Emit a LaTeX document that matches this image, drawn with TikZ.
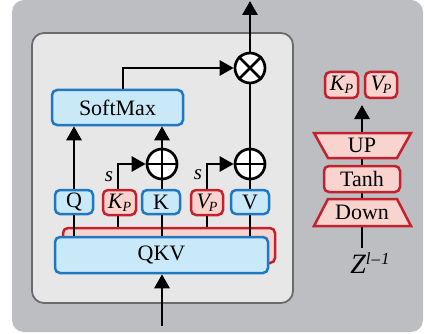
\documentclass[tikz,border=0pt]{standalone}
\usepackage{fontspec}
\setmainfont{Liberation Serif}
\usetikzlibrary{arrows.meta,shapes.geometric}
\definecolor{outerg}{RGB}{189,190,194}
\definecolor{innerg}{RGB}{231,231,231}
\definecolor{innerb}{RGB}{107,107,107}
\definecolor{bfill}{RGB}{201,233,248}
\definecolor{bline}{RGB}{31,120,193}
\definecolor{rfill}{RGB}{249,211,206}
\definecolor{rline}{RGB}{196,33,47}
\newcommand{\KP}{{\itshape K\raisebox{-3pt}{\fontsize{14}{14}\selectfont P}}}
\newcommand{\VP}{{\itshape V\kern-1pt\raisebox{-3pt}{\fontsize{14}{14}\selectfont P}}}
\tikzset{
  txt/.style={font=\fontsize{22}{24}\selectfont, inner sep=0pt},
  bbox/.style={draw=bline, fill=bfill, line width=2.5pt, rounded corners=5pt, inner sep=0pt, font=\fontsize{22}{24}\selectfont},
  rbox/.style={draw=rline, fill=rfill, line width=2.5pt, rounded corners=5pt, inner sep=0pt, font=\fontsize{22}{24}\selectfont},
  conn/.style={line width=2.8pt, black},
  arr/.style={conn, -{Triangle[width=15pt,length=14pt]}},
  opc/.style={circle, draw=black, fill=white, line width=2.7pt, minimum size=30pt, inner sep=0pt},
}
\begin{document}
\begin{tikzpicture}[x=1pt,y=-1pt]
\useasboundingbox (0,0) rectangle (425,334);
% backgrounds
\fill[outerg, rounded corners=12pt] (12,0) rectangle (423,332);
\draw[innerb, fill=innerg, line width=1.8pt, rounded corners=12pt] (32,33) rectangle (293,303);

% operator circles
\node[opc] (plusK) at (162,164) {};
\draw[conn] (plusK.north) -- (plusK.south) (plusK.west) -- (plusK.east);
\node[opc] (plusV) at (250,164) {};
\draw[conn] (plusV.north) -- (plusV.south) (plusV.west) -- (plusV.east);
\node[opc] (mul) at (250,68) {};
\draw[conn] (mul.north west) -- (mul.south east) (mul.north east) -- (mul.south west);

% boxes
\node[rbox, minimum width=212pt, minimum height=35pt] (prefix) at (169,245.5) {};
\node[bbox, minimum width=213pt, minimum height=36pt] (qkv) at (161.5,255) {QKV};
\node[bbox, minimum width=131pt, minimum height=35pt] (soft) at (117.5,107.5) {SoftMax};
\node[bbox, minimum width=38pt, minimum height=24pt] (q) at (74,202) {Q};
\node[rbox, minimum width=33pt, minimum height=25pt] (kp) at (119.5,202.5) {\KP};
\node[bbox, minimum width=38pt, minimum height=24pt] (k) at (161,202) {K};
\node[rbox, minimum width=32pt, minimum height=25pt] (vp) at (207,202.5) {\VP};
\node[bbox, minimum width=38pt, minimum height=24pt] (v) at (250,202) {V};

% connectors
\draw[conn] (q.south) -- (q.south |- qkv.north);
\draw[conn] (kp.south -| 118,0) -- (118,0 |- prefix.north);
\draw[conn] (k.south -| 162,0) -- (162,0 |- qkv.north);
\draw[conn] (vp.south) -- (vp.south |- prefix.north);
\draw[conn] (v.south) -- (v.south |- qkv.north);
\draw[arr] (q.north) -- (q.north |- soft.south);
\draw[arr] (k.north -| plusK) -- (plusK |- soft.south);
\draw[arr] (kp.north -| 118,0) |- (plusK.west);
\draw[arr] (vp.north) |- (plusV.west);
\draw[conn] (v.north) -- (mul.south);
\draw[arr] (soft.north -| 123,0) |- (mul.west);
\coordinate (outtop) at (250,1);
\draw[arr] (mul.north) -- (outtop);
\coordinate (inbot) at (162,326);
\draw[arr] (inbot) -- (qkv.south -| inbot);
\node[txt, font=\fontsize{21}{22}\selectfont\itshape] (s1) at (109,177) {s};
\node[txt, font=\fontsize{21}{22}\selectfont\itshape] (s2) at (198,175) {s};

% right side
\node[txt, font=\fontsize{28}{30}\selectfont\itshape] (z) at (370,263) {Z\raisebox{9pt}{\fontsize{17}{17}\selectfont l\kern1pt\textendash\kern1pt1}};
\coordinate (zt) at (362,248);
\coordinate (kvtop) at (362,105);
\draw[arr] (zt) -- (kvtop);
\draw[draw=rline, fill=rfill, line width=2.5pt, line join=miter] (314,133) -- (411,133) -- (397,158) -- (328,158) -- cycle;
\node[txt] (up) at (362,145.5) {UP};
\node[rbox, minimum width=76pt, minimum height=26pt] (tanh) at (362,179) {Tanh};
\draw[draw=rline, fill=rfill, line width=2.5pt, line join=miter] (328,199) -- (397,199) -- (411,226) -- (314,226) -- cycle;
\node[txt] (down) at (362,212.5) {Down};
\node[rbox, minimum width=33pt, minimum height=26pt] (kp2) at (341.5,85) {\KP};
\node[rbox, minimum width=32pt, minimum height=26pt] (vp2) at (381,85) {\VP};
\end{tikzpicture}
\end{document}
